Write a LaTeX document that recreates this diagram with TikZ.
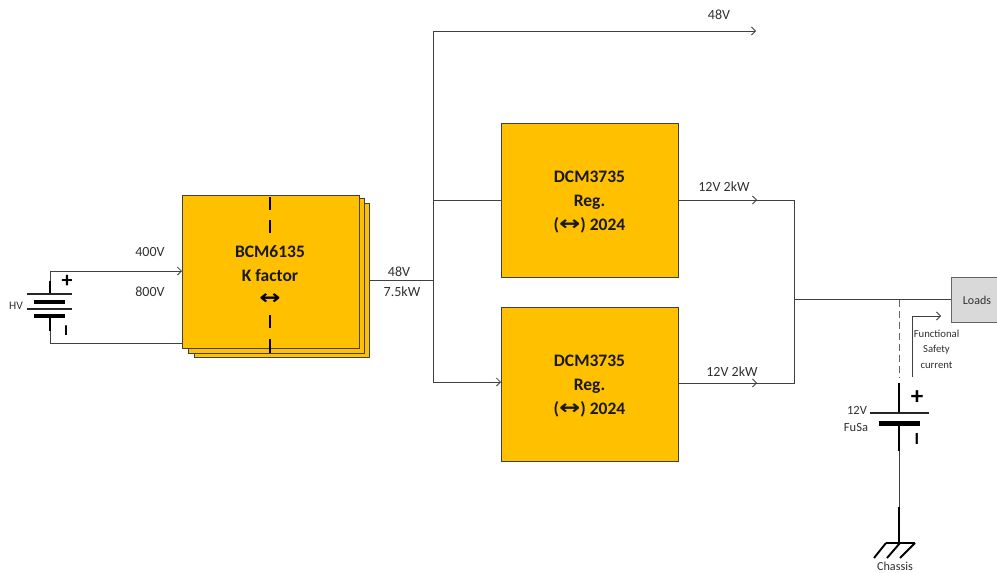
\documentclass[tikz,border=0pt]{standalone}
\usepackage{fontspec}
\setmainfont{Carlito}
\newfontfamily\arrowfont{DejaVu Sans}
\usetikzlibrary{arrows.meta}
\definecolor{boxfill}{HTML}{FFC000}
\definecolor{wirecol}{HTML}{404040}
\definecolor{txtcol}{HTML}{303030}
\newcommand{\widearrow}{{\arrowfont\scalebox{1.45}[1.15]{↔}}}
\tikzset{
  x=1pt,y=-1pt,
  wire/.style={draw=wirecol,line width=0.9pt},
  arrowwire/.style={wire,-{Straight Barb[length=4pt,width=8pt,line width=0.8pt]}},
  block/.style={draw=wirecol,fill=boxfill,line width=0.9pt,inner sep=0pt,anchor=north west},
  blocktext/.style={inner sep=0pt,align=center,text=black!90,font=\bfseries\fontsize{17.5}{24}\selectfont},
  stacked/.style={draw=wirecol,fill=boxfill,line width=0.9pt},
  heavy/.style={draw=black,line width=2pt},
  thickplate/.style={draw=black,line width=4.5pt},
  thinplate/.style={draw=black!85,line width=1.6pt},
  hatch/.style={draw=black,line width=1.9pt},
  lbl/.style={inner sep=0pt,text=txtcol,font=\fontsize{14}{14}\selectfont},
  smalllbl/.style={inner sep=0pt,text=txtcol,font=\fontsize{11.5}{11.5}\selectfont},
  tiny/.style={inner sep=0pt,text=txtcol,align=center,font=\fontsize{10.7}{15.5}\selectfont},
  sign/.style={inner sep=0pt,text=black,font=\bfseries\fontsize{22}{22}\selectfont},
  bcmdash/.style={draw=black,line width=2pt},
}
\begin{document}
\begin{tikzpicture}
\useasboundingbox (0,0) rectangle (997,573);
% named points
\coordinate (hvtop) at (50,271);
\coordinate (hvbot) at (50,343);
\coordinate (bus) at (433,280);
\coordinate (bustop) at (433,31);
\coordinate (bus48) at (756,31);
\coordinate (bus1) at (433,200);
\coordinate (bus2) at (433,382);
\coordinate (out1) at (794,200);
\coordinate (out2) at (794,383);
\coordinate (outm) at (794,299.5);
\coordinate (tap) at (899,299.5);
\coordinate (batp) at (899,383);
\coordinate (fsb) at (912,377);
\coordinate (fsc) at (912,316);
\coordinate (fse) at (941,316);
\coordinate (mid1) at (757,200);
\coordinate (mid2) at (757,383);
% BCM stack
\draw[stacked] (194,203) rectangle (369,357);
\draw[stacked] (188,198) rectangle (364,353);
\node[block,minimum width=177pt,minimum height=153pt] (bcm) at (182,195) {};
\node[blocktext] (bcmt) at (270,263.5) {BCM6135\\K factor};
\node[inner sep=0pt,font=\bfseries\fontsize{17.5}{17.5}\selectfont,text=black] (bcma) at (270,299) {\widearrow};
\coordinate (d1a) at (270,197); \coordinate (d1b) at (270,210);
\coordinate (d2a) at (270,220); \coordinate (d2b) at (270,233);
\coordinate (d3a) at (270,315); \coordinate (d3b) at (270,328);
\coordinate (d4a) at (270,339); \coordinate (d4b) at (270,353);
\draw[bcmdash] (d1a)--(d1b) (d2a)--(d2b) (d3a)--(d3b) (d4a)--(d4b);
% DCM blocks
\node[block,minimum width=177pt,minimum height=154pt] (dcm1) at (501,123) {};
\node[block,minimum width=177pt,minimum height=154pt] (dcm2) at (501,307) {};
\node[blocktext] (dcm1t) at (589.5,202.5) {DCM3735\\Reg.\\(\widearrow) 2024};
\node[blocktext] (dcm2t) at (589.5,386.5) {DCM3735\\Reg.\\(\widearrow) 2024};
% Loads
\node[draw=wirecol!80,fill=black!15,line width=0.9pt,inner sep=0pt,anchor=north west,minimum width=50pt,minimum height=45pt] (loadsbox) at (951,277) {};
\node[smalllbl,font=\fontsize{12}{12}\selectfont] (loads) at (977,300) {Loads};
% input wiring
\coordinate (bcmin) at (182,271);
\coordinate (bcmin2) at (182,343);
\draw[arrowwire] (hvtop) -- (bcmin);
\draw[wire] (hvtop) -- (50,294);
\draw[wire] (hvbot) -- (50,316);
\draw[wire] (hvbot) -- (bcmin2);
% HV battery
\draw[heavy] (50,281) -- (50,294);
\draw[heavy] (50,316) -- (50,331);
\draw[thinplate] (27,294) -- (72,294);
\draw[thickplate] (34,302) -- (65,302);
\draw[thinplate] (27,309) -- (72,309);
\draw[thickplate] (34,316) -- (65,316);
\node[sign] (hvp) at (67,281) {+};
\node[sign,font=\bfseries\fontsize{15}{15}\selectfont] (hvm) at (66,331) {I};
% bus
\draw[wire] (369,280) -- (bus);
\draw[arrowwire] (bus2) -- (bustop) -- (bus48);
\draw[wire] (bus1) -- (dcm1.west |- bus1);
\draw[arrowwire] (bus2) -- (dcm2.west |- bus2);
% outputs
\draw[wire] (dcm1.east |- out1) -- (out1) -- (out2) -- (dcm2.east |- out2);
\draw[arrowwire] (dcm1.east |- out1) -- (mid1);
\draw[arrowwire] (dcm2.east |- out2) -- (mid2);
\draw[wire] (outm) -- (loadsbox.west |- outm);
% FuSa battery
\draw[wire,draw=wirecol!80,dash pattern=on 7pt off 4pt] (tap) -- (899,378);
\draw[arrowwire] (fsb) -- (fsc) -- (fse);
\draw[heavy] (batp) -- (899,413);
\draw[thinplate,line width=2pt] (870,413) -- (929,413);
\draw[thickplate,line width=5pt] (879,423) -- (920,423);
\draw[heavy] (899,423) -- (899,451);
\draw[wire] (899,451) -- (899,507);
\draw[heavy] (899,507) -- (899,543);
\draw[hatch] (886,543) -- (915,543);
\draw[hatch] (915,543) -- (900,558) (900,543) -- (887,558) (886,543) -- (874,558);
\node[sign,font=\bfseries\fontsize{25}{25}\selectfont] (fsp) at (917,398) {+};
\node[sign,font=\bfseries\fontsize{17}{17}\selectfont] (fsm) at (917,439) {I};
% labels
\node[lbl] (v400) at (150,252) {400V};
\node[lbl] (v800) at (150,292) {800V};
\node[lbl] (v48a) at (399,272) {48V};
\node[lbl] (p75) at (402,292) {7.5kW};
\node[lbl] (v48b) at (719,15) {48V};
\node[lbl] (o1) at (724,187) {12V 2kW};
\node[lbl] (o2) at (732,372) {12V 2kW};
\node[smalllbl] (hv) at (16,306) {HV};
\node[smalllbl,font=\fontsize{12.5}{12.5}\selectfont] (v12) at (857,410) {12V};
\node[smalllbl,font=\fontsize{12.5}{12.5}\selectfont] (fusa) at (856,427) {FuSa};
\node[tiny] (fs) at (936.5,349) {Functional\\Safety\\current};
\node[smalllbl,font=\fontsize{12.2}{12.2}\selectfont] (ch) at (895,566) {Chassis};
\end{tikzpicture}
\end{document}
